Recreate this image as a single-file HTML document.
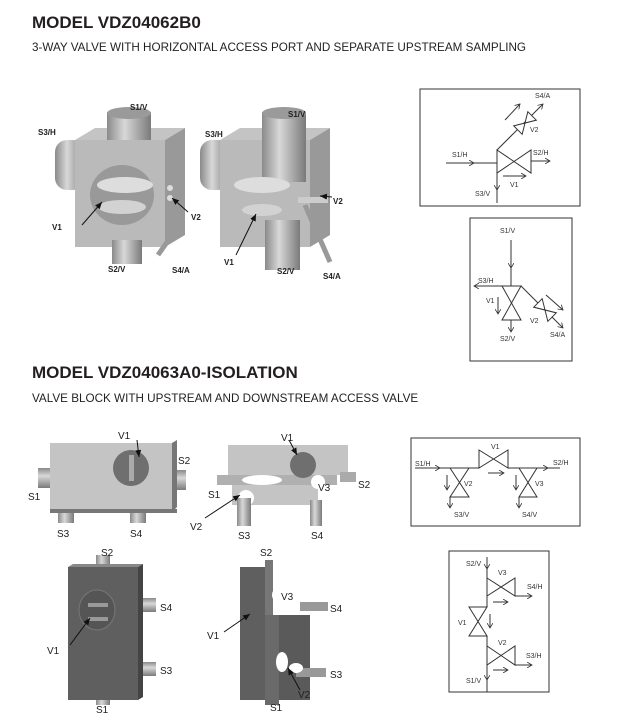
<!DOCTYPE html>
<html><head><style>
body{margin:0;background:#fff;}
svg{display:block;font-family:"Liberation Sans",sans-serif;}
.t{font-weight:bold;font-size:17px;fill:#231f20}
.st{font-size:11.7px;fill:#231f20}
.s{fill:none;stroke:#333;stroke-width:1}
.l{font-size:7px;fill:#333}
.b{font-weight:bold;font-size:8px;fill:#222}
.r{font-size:10px;fill:#222}
</style></head><body>
<svg width="620" height="719" viewBox="0 0 620 719">
<defs>
<marker id="a" markerWidth="6" markerHeight="6" refX="5" refY="3" orient="auto"><path d="M0,0 L5,3 L0,6" fill="none" stroke="#333" stroke-width="0.8"/></marker>
<marker id="k" markerWidth="8" markerHeight="8" refX="7" refY="4" orient="auto"><path d="M0,1 L7,4 L0,7z" fill="#111"/></marker>
<linearGradient id="cy" x1="0" x2="1"><stop offset="0" stop-color="#8a8a8a"/><stop offset=".4" stop-color="#d8d8d8"/><stop offset="1" stop-color="#7a7a7a"/></linearGradient>
<linearGradient id="cyv" x1="0" y1="0" x2="0" y2="1"><stop offset="0" stop-color="#8a8a8a"/><stop offset=".4" stop-color="#d8d8d8"/><stop offset="1" stop-color="#7a7a7a"/></linearGradient>
</defs>
<text x="32" y="28" class="t">MODEL VDZ04062B0</text>
<text x="32" y="51" class="st">3-WAY VALVE WITH HORIZONTAL ACCESS PORT AND SEPARATE UPSTREAM SAMPLING</text>
<text x="32" y="378" class="t">MODEL VDZ04063A0-ISOLATION</text>
<text x="32" y="402" class="st">VALVE BLOCK WITH UPSTREAM AND DOWNSTREAM ACCESS VALVE</text>

<g>
<rect x="55" y="140" width="30" height="50" rx="12" fill="url(#cy)"/>
<polygon points="75,140 95,128 185,128 165,140" fill="#c4c4c4"/>
<polygon points="165,140 185,128 185,235 165,247" fill="#999"/>
<rect x="75" y="140" width="90" height="107" fill="#bababa"/>
<rect x="107" y="112" width="44" height="28" fill="url(#cy)"/>
<ellipse cx="129" cy="113" rx="22" ry="6" fill="#9a9a9a"/>
<rect x="112" y="240" width="30" height="24" fill="url(#cy)"/>
<line x1="172" y1="235" x2="158" y2="255" stroke="#999" stroke-width="5"/>
<ellipse cx="122" cy="195" rx="32" ry="30" fill="#999"/>
<ellipse cx="125" cy="185" rx="28" ry="8" fill="#ddd"/>
<ellipse cx="122" cy="207" rx="24" ry="7" fill="#d2d2d2"/>
<circle cx="170" cy="188" r="3" fill="#ddd"/><circle cx="170" cy="198" r="3" fill="#ddd"/>
<line x1="82" y1="225" x2="102" y2="202" stroke="#111" marker-end="url(#k)"/>
<line x1="188" y1="212" x2="172" y2="198" stroke="#111" marker-end="url(#k)"/>
<text x="130" y="110" class="b">S1/V</text><text x="38" y="135" class="b">S3/H</text>
<text x="52" y="230" class="b">V1</text><text x="191" y="220" class="b">V2</text>
<text x="108" y="272" class="b">S2/V</text><text x="172" y="273" class="b">S4/A</text>

<rect x="200" y="140" width="30" height="50" rx="12" fill="url(#cy)"/>
<polygon points="220,140 240,128 330,128 310,140" fill="#c4c4c4"/>
<polygon points="310,140 330,128 330,235 310,247" fill="#999"/>
<rect x="220" y="140" width="90" height="107" fill="#bababa"/>
<rect x="262" y="112" width="44" height="70" fill="url(#cy)"/>
<ellipse cx="284" cy="113" rx="22" ry="6" fill="#9a9a9a"/>
<ellipse cx="262" cy="185" rx="28" ry="8" fill="#ddd"/>
<rect x="265" y="220" width="35" height="50" fill="url(#cy)"/>
<ellipse cx="262" cy="210" rx="20" ry="6" fill="#d2d2d2"/>
<rect x="298" y="197" width="30" height="6" fill="#ccc"/>
<line x1="305" y1="205" x2="330" y2="262" stroke="#999" stroke-width="5"/>
<line x1="236" y1="255" x2="256" y2="214" stroke="#111" marker-end="url(#k)"/>
<line x1="332" y1="197" x2="320" y2="196" stroke="#111" marker-end="url(#k)"/>
<text x="288" y="117" class="b">S1/V</text><text x="205" y="137" class="b">S3/H</text>
<text x="224" y="265" class="b">V1</text><text x="333" y="204" class="b">V2</text>
<text x="277" y="274" class="b">S2/V</text><text x="323" y="279" class="b">S4/A</text>
</g>

<rect x="420" y="89" width="160" height="117" class="s" stroke-width="1.2"/>
<line x1="446" y1="163" x2="497" y2="163" class="s"/>
<line x1="470" y1="163" x2="474" y2="163" class="s" marker-end="url(#a)"/>
<polygon points="497,150 531,173 531,150 497,173" class="s"/>
<line x1="497" y1="150" x2="497" y2="203" class="s"/>
<line x1="497" y1="185" x2="497" y2="190" class="s" marker-end="url(#a)"/>
<line x1="531" y1="161" x2="550" y2="161" class="s" marker-end="url(#a)"/>
<line x1="503" y1="176" x2="526" y2="176" class="s" marker-end="url(#a)"/>
<line x1="497" y1="150" x2="543" y2="104" class="s" marker-end="url(#a)"/>
<g transform="translate(525,123) rotate(-45)"><polygon points="-10,-6 10,6 10,-6 -10,6" fill="#fff" stroke="#333"/></g>
<line x1="505" y1="120" x2="520" y2="104" class="s" marker-end="url(#a)"/>
<text x="535" y="98" class="l">S4/A</text><text x="530" y="132" class="l">V2</text>
<text x="452" y="157" class="l">S1/H</text><text x="533" y="155" class="l">S2/H</text>
<text x="510" y="187" class="l">V1</text><text x="475" y="196" class="l">S3/V</text>

<rect x="470" y="218" width="102" height="143" class="s" stroke-width="1.2"/>
<text x="500" y="233" class="l">S1/V</text>
<line x1="511" y1="240" x2="511" y2="286" class="s"/>
<line x1="511" y1="260" x2="511" y2="268" class="s" marker-end="url(#a)"/>
<line x1="521" y1="286" x2="474" y2="286" class="s" marker-end="url(#a)"/>
<text x="478" y="283" class="l">S3/H</text>
<polygon points="502,286 521,320 502,320 521,286" class="s"/>
<line x1="511" y1="320" x2="511" y2="332" class="s" marker-end="url(#a)"/>
<text x="500" y="341" class="l">S2/V</text>
<line x1="498" y1="297" x2="498" y2="314" class="s" marker-end="url(#a)"/>
<text x="486" y="303" class="l">V1</text>
<line x1="521" y1="286" x2="563" y2="328" class="s" marker-end="url(#a)"/>
<g transform="translate(545,310) rotate(45)"><polygon points="-10,-6 10,6 10,-6 -10,6" fill="#fff" stroke="#333"/></g>
<line x1="546" y1="295" x2="563" y2="310" class="s" marker-end="url(#a)"/>
<text x="530" y="323" class="l">V2</text><text x="550" y="337" class="l">S4/A</text>

<g>
<rect x="38" y="468" width="16" height="20" fill="url(#cyv)"/>
<rect x="172" y="470" width="14" height="20" fill="url(#cyv)"/>
<rect x="58" y="505" width="16" height="18" fill="url(#cy)"/>
<rect x="130" y="505" width="16" height="18" fill="url(#cy)"/>
<polygon points="172,443 177,440 177,507 172,512" fill="#777"/>
<rect x="50" y="443" width="122" height="67" fill="#c4c4c4"/>
<rect x="50" y="509" width="127" height="4" fill="#777"/>
<circle cx="131" cy="468" r="18" fill="#6f6f6f"/>
<rect x="129" y="455" width="5" height="26" fill="#aaa"/>
<text x="118" y="439" class="r">V1</text><text x="178" y="464" class="r">S2</text>
<text x="28" y="500" class="r">S1</text><text x="57" y="537" class="r">S3</text><text x="130" y="537" class="r">S4</text>
<line x1="137" y1="440" x2="139" y2="457" stroke="#111" marker-end="url(#k)"/>

<rect x="228" y="445" width="120" height="30" fill="#c4c4c4"/>
<rect x="232" y="475" width="86" height="30" fill="#c4c4c4"/>
<rect x="217" y="475" width="120" height="10" fill="#b0b0b0"/>
<ellipse cx="262" cy="480" rx="20" ry="5" fill="#fff"/>
<rect x="340" y="472" width="16" height="10" fill="#aaa"/>
<circle cx="303" cy="465" r="13" fill="#6f6f6f"/>
<circle cx="318" cy="482" r="7" fill="#fff"/>
<circle cx="246" cy="498" r="8" fill="#fff"/>
<rect x="237" y="498" width="14" height="28" fill="url(#cy)"/>
<rect x="310" y="500" width="12" height="26" fill="url(#cy)"/>
<text x="281" y="441" class="r">V1</text><text x="208" y="498" class="r">S1</text>
<text x="318" y="491" class="r">V3</text><text x="358" y="488" class="r">S2</text>
<text x="190" y="530" class="r">V2</text><text x="238" y="539" class="r">S3</text><text x="311" y="539" class="r">S4</text>
<line x1="289" y1="440" x2="297" y2="455" stroke="#111" marker-end="url(#k)"/>
<line x1="205" y1="518" x2="240" y2="495" stroke="#111" marker-end="url(#k)"/>

<rect x="96" y="555" width="14" height="14" fill="url(#cy)"/>
<rect x="96" y="695" width="14" height="10" fill="url(#cy)"/>
<rect x="138" y="598" width="18" height="14" fill="url(#cyv)"/>
<rect x="138" y="662" width="18" height="14" fill="url(#cyv)"/>
<polygon points="68,567 73,564 143,564 138,567" fill="#888"/>
<polygon points="138,567 143,564 143,697 138,700" fill="#444"/>
<rect x="68" y="567" width="70" height="133" fill="#5f5f5f"/>
<ellipse cx="97" cy="610" rx="18" ry="20" fill="#555" stroke="#777"/>
<rect x="88" y="603" width="20" height="4" fill="#999"/><rect x="88" y="617" width="20" height="4" fill="#999"/>
<text x="101" y="556" class="r">S2</text><text x="160" y="611" class="r">S4</text>
<text x="47" y="654" class="r">V1</text><text x="160" y="674" class="r">S3</text><text x="96" y="713" class="r">S1</text>
<line x1="70" y1="645" x2="90" y2="618" stroke="#111" marker-end="url(#k)"/>

<rect x="240" y="567" width="30" height="133" fill="#5f5f5f"/>
<rect x="265" y="560" width="8" height="60" fill="#777"/>
<rect x="270" y="615" width="40" height="85" fill="#5a5a5a"/>
<rect x="265" y="615" width="14" height="90" fill="#6a6a6a"/>
<rect x="300" y="602" width="28" height="9" fill="#999"/>
<circle cx="280" cy="595" r="8" fill="#fff"/>
<ellipse cx="282" cy="662" rx="6" ry="10" fill="#fff"/>
<rect x="296" y="668" width="30" height="9" fill="#999"/>
<ellipse cx="296" cy="668" rx="7" ry="5" fill="#fff"/>
<text x="260" y="556" class="r">S2</text><text x="281" y="600" class="r">V3</text><text x="330" y="612" class="r">S4</text>
<text x="207" y="639" class="r">V1</text><text x="330" y="678" class="r">S3</text>
<text x="298" y="698" class="r">V2</text><text x="270" y="711" class="r">S1</text>
<line x1="224" y1="632" x2="250" y2="614" stroke="#111" marker-end="url(#k)"/>
<line x1="300" y1="690" x2="288" y2="668" stroke="#111" marker-end="url(#k)"/>
</g>

<rect x="411" y="438" width="169" height="88" class="s" stroke-width="1.2"/>
<text x="415" y="466" class="l">S1/H</text>
<line x1="415" y1="468" x2="450" y2="468" class="s"/>
<line x1="430" y1="468" x2="440" y2="468" class="s" marker-end="url(#a)"/>
<line x1="450" y1="468" x2="479" y2="468" class="s"/>
<polygon points="479,450 508,468 508,450 479,468" class="s"/>
<text x="491" y="449" class="l">V1</text>
<line x1="508" y1="468" x2="560" y2="468" class="s"/>
<line x1="540" y1="468" x2="548" y2="468" class="s" marker-end="url(#a)"/>
<text x="553" y="465" class="l">S2/H</text>
<line x1="488" y1="473" x2="504" y2="473" class="s" marker-end="url(#a)"/>
<polygon points="450,468 469,497 450,497 469,468" class="s"/>
<line x1="450" y1="497" x2="450" y2="508" class="s" marker-end="url(#a)"/>
<line x1="447" y1="475" x2="447" y2="490" class="s" marker-end="url(#a)"/>
<text x="464" y="486" class="l">V2</text><text x="454" y="517" class="l">S3/V</text>
<polygon points="519,468 537,497 519,497 537,468" class="s"/>
<line x1="519" y1="497" x2="519" y2="508" class="s" marker-end="url(#a)"/>
<line x1="516" y1="475" x2="516" y2="490" class="s" marker-end="url(#a)"/>
<text x="535" y="486" class="l">V3</text><text x="522" y="517" class="l">S4/V</text>

<rect x="449" y="551" width="100" height="141" class="s" stroke-width="1.2"/>
<text x="466" y="566" class="l">S2/V</text>
<line x1="487" y1="557" x2="487" y2="596" class="s"/>
<line x1="487" y1="560" x2="487" y2="569" class="s" marker-end="url(#a)"/>
<polygon points="487,578 515,596 515,578 487,596" class="s"/>
<text x="498" y="575" class="l">V3</text>
<line x1="515" y1="596" x2="532" y2="596" class="s" marker-end="url(#a)"/>
<text x="527" y="589" class="l">S4/H</text>
<line x1="493" y1="602" x2="508" y2="602" class="s" marker-end="url(#a)"/>
<polygon points="469,607 487,636 469,636 487,607" class="s"/>
<line x1="487" y1="596" x2="487" y2="607" class="s"/>
<line x1="490" y1="614" x2="490" y2="628" class="s" marker-end="url(#a)"/>
<text x="458" y="625" class="l">V1</text>
<line x1="487" y1="636" x2="487" y2="692" class="s"/>
<line x1="487" y1="672" x2="487" y2="680" class="s" marker-end="url(#a)"/>
<polygon points="487,646 515,665 515,646 487,665" class="s"/>
<text x="498" y="645" class="l">V2</text>
<line x1="515" y1="665" x2="532" y2="665" class="s" marker-end="url(#a)"/>
<text x="526" y="658" class="l">S3/H</text>
<line x1="493" y1="670" x2="508" y2="670" class="s" marker-end="url(#a)"/>
<text x="466" y="683" class="l">S1/V</text>
</svg>
</body></html>
